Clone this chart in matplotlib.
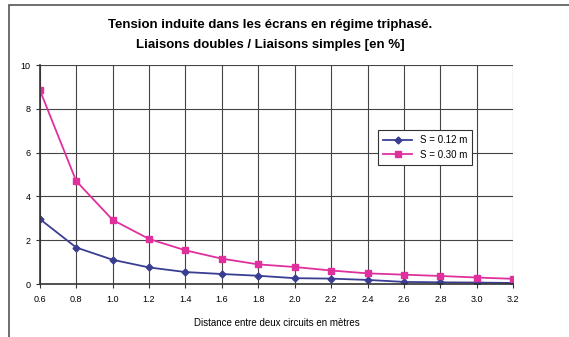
import matplotlib.pyplot as plt
from matplotlib.patches import Rectangle

plt.rcParams["font.family"] = ["Liberation Sans", "DejaVu Sans"]

# data
distance = [0.6, 0.8, 1.0, 1.2, 1.4, 1.6, 1.8, 2.0, 2.2, 2.4, 2.6, 2.8, 3.0, 3.2]
s_012 = [2.97, 1.67, 1.11, 0.76, 0.55, 0.46, 0.38, 0.27, 0.25, 0.19, 0.1, 0.08, 0.07, 0.05]
s_030 = [8.86, 4.7, 2.93, 2.06, 1.54, 1.16, 0.9, 0.78, 0.62, 0.49, 0.43, 0.37, 0.3, 0.24]
x_ticks = ["0.6", "0.8", "1.0", "1.2", "1.4", "1.6", "1.8", "2.0", "2.2", "2.4",
           "2.6", "2.8", "3.0", "3.2"]
y_ticks = [0, 2, 4, 6, 8, 10]

fig = plt.figure(figsize=(5.69, 3.37), dpi=100)
ax = fig.add_axes([0.070, 0.157, 0.832, 0.650])

# outer chart frame (only top and left edges show in the scan)
fig.patches.append(Rectangle((0.016, -0.05), 1.2, 1.035, transform=fig.transFigure,
                             fill=False, edgecolor="#555555", linewidth=1.2))

ax.plot(distance, s_012, color="#3a3e92", marker="D", markersize=3.5,
        linewidth=1.3, label="S = 0.12 m")
ax.plot(distance, s_030, color="#e0309e", marker="s", markersize=5,
        linewidth=1.3, label="S = 0.30 m")

ax.set_xlim(0.6, 3.2)
ax.set_ylim(0, 10)
ax.set_xticks(distance)
ax.set_xticklabels(x_ticks)
ax.set_yticks(y_ticks)
ax.tick_params(labelsize=6.5, length=3, color="#333333")
ax.tick_params(axis="x", pad=5)
ax.grid(True, color="#444444", linewidth=0.8)
ax.set_axisbelow(True)
for side in ["top", "right"]:
    ax.spines[side].set_visible(False)
for side in ["left", "bottom"]:
    ax.spines[side].set_color("#333333")
    ax.spines[side].set_linewidth(1.2)

ax.set_xlabel("Distance entre deux circuits en mètres", fontsize=7, labelpad=10)
fig.text(0.475, 0.925, "Tension induite dans les écrans en régime triphasé.",
         ha="center", va="center", fontsize=9.5, fontweight="bold")
fig.text(0.475, 0.865, "Liaisons doubles / Liaisons simples [en %]",
         ha="center", va="center", fontsize=9.5, fontweight="bold")

leg = ax.legend(loc="upper left", bbox_to_anchor=(0.705, 0.725), fontsize=7,
                fancybox=False, framealpha=1, edgecolor="#333333",
                handlelength=3, borderpad=0.5)
leg.get_frame().set_linewidth(0.8)

fig.savefig("out.png", dpi=100)
